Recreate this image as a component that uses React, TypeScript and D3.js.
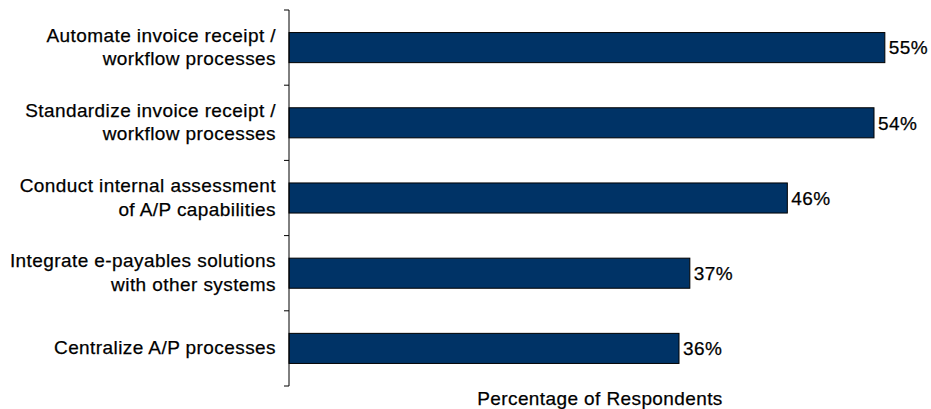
import React from "react";
import * as d3 from "d3";

const categories: string[][] = [
  ["Automate invoice receipt /", "workflow processes"],
  ["Standardize invoice receipt /", "workflow processes"],
  ["Conduct internal assessment", "of A/P capabilities"],
  ["Integrate e-payables solutions", "with other systems"],
  ["Centralize A/P processes"],
];
const values: number[] = [55, 54, 46, 37, 36];
const axisTitle = "Percentage of Respondents";

const W = 931;
const H = 409;
const FONT = "Liberation Sans, Arial, Helvetica, sans-serif";

export default function App() {
  const keys = categories.map((_, i) => String(i));
  const y = d3.scaleBand<string>().domain(keys).range([10, 386]).paddingInner(0.6).paddingOuter(0.3);
  const x = d3.scaleLinear().domain([0, 60]).range([289, 939]);
  const step = y.step();
  const y0 = 10;
  const tickYs = d3.range(categories.length + 1).map((i) => y0 + i * step);
  const textStyle = { stroke: "#000", strokeWidth: 0.25 };

  return (
    <svg width={W} height={H} style={{ position: "absolute", left: 0, top: 0 }} fontFamily={FONT}>
      <rect x={0} y={0} width={W} height={H} fill="#fff" />
      {values.map((v, i) => {
        const by = y(String(i))!;
        const bh = y.bandwidth();
        return (
          <g key={i}>
            <rect x={x(0)} y={by} width={x(v) - x(0)} height={bh} fill="#003366" stroke="#000" strokeWidth={1} />
            <text x={x(v) + 4} y={by + bh / 2} dy="0.36em" fontSize={19} letterSpacing={0.4} fill="#000" {...textStyle}>
              {v}%
            </text>
            <text textAnchor="end" fontSize={19} letterSpacing={0.42} fill="#000" {...textStyle}>
              {categories[i].map((line, j) => {
                const n = categories[i].length;
                const cy = by + bh / 2 - 1 + (j - (n - 1) / 2) * 23.5;
                return (
                  <tspan key={j} x={276} y={cy} dy="0.36em">
                    {line}
                  </tspan>
                );
              })}
            </text>
          </g>
        );
      })}
      <line x1={x(0)} x2={x(0)} y1={tickYs[0]} y2={tickYs[tickYs.length - 1]} stroke="#000" strokeWidth={1} />
      {tickYs.map((t, i) => (
        <line key={i} x1={x(0) - 5} x2={x(0)} y1={t} y2={t} stroke="#000" strokeWidth={1} />
      ))}
      <text x={600} y={405} textAnchor="middle" fontSize={19} letterSpacing={0.4} fill="#000" {...textStyle}>
        {axisTitle}
      </text>
    </svg>
  );
}
